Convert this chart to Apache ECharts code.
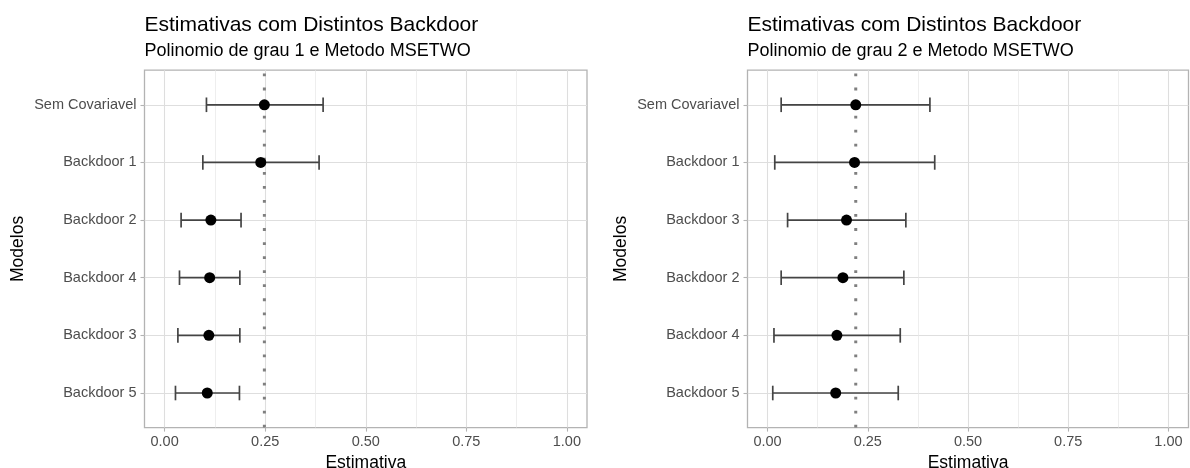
<!DOCTYPE html>
<html><head><meta charset="utf-8">
<script src="https://cdn.jsdelivr.net/npm/echarts@6/dist/echarts.min.js"></script>
<style>html,body{margin:0;padding:0;background:#fff}#c{width:1190px;height:468px}</style>
</head><body><div id="c"></div>
<script>
// ---- data ----
const titleText = 'Estimativas com Distintos Backdoor';
const subtitle1 = 'Polinomio de grau 1 e Metodo MSETWO';
const subtitle2 = 'Polinomio de grau 2 e Metodo MSETWO';
const xName = 'Estimativa';
const yName = 'Modelos';

const categories1 = ['Sem Covariavel', 'Backdoor 1', 'Backdoor 2', 'Backdoor 4', 'Backdoor 3', 'Backdoor 5'];
const estimate1 = [0.248, 0.239, 0.115, 0.112, 0.110, 0.106];
const lower1 = [0.104, 0.095, 0.041, 0.037, 0.033, 0.027];
const upper1 = [0.394, 0.384, 0.190, 0.187, 0.187, 0.186];
const vline1 = 0.248;

const categories2 = ['Sem Covariavel', 'Backdoor 1', 'Backdoor 3', 'Backdoor 2', 'Backdoor 4', 'Backdoor 5'];
const estimate2 = [0.220, 0.217, 0.197, 0.188, 0.173, 0.170];
const lower2 = [0.034, 0.018, 0.050, 0.034, 0.016, 0.013];
const upper2 = [0.405, 0.417, 0.345, 0.340, 0.331, 0.326];
const vline2 = 0.220;

const xTicks = [0, 0.25, 0.5, 0.75, 1];
const xTickLabels = ['0.00', '0.25', '0.50', '0.75', '1.00'];
const xMinorTicks = [0.125, 0.375, 0.625, 0.875];

// ---- chart ----
const FONT = 'Liberation Sans';
const chart = echarts.init(document.getElementById('c'));

const panels = [
  {cats: categories1, est: estimate1, lo: lower1, hi: upper1, v: vline1, sub: subtitle1, left: 144.5, right: 603},
  {cats: categories2, est: estimate2, lo: lower2, hi: upper2, v: vline2, sub: subtitle2, left: 747.5, right: 1.5}
];

const grid = [], xAxis = [], yAxis = [], series = [], title = [];

panels.forEach((p, i) => {
  const idx = p.cats.map((_, k) => k);
  grid.push({left: p.left, right: p.right, top: 70.2, bottom: 40.4, show: true,
    borderColor: '#b3b3b3', borderWidth: 1.3,
    containLabel: false, outerBoundsMode: 'none'});
  title.push({text: titleText, left: p.left, top: 14.5, padding: 0,
    textStyle: {fontFamily: FONT, fontSize: 21, fontWeight: 'normal', color: '#000'}});
  title.push({text: p.sub, left: p.left, top: 42, padding: 0,
    textStyle: {fontFamily: FONT, fontSize: 18, fontWeight: 'normal', color: '#000'}});

  // main x axis (labels, ticks, title)
  xAxis.push({type: 'value', gridIndex: i, min: -0.05, max: 1.05, position: 'bottom',
    axisLine: {show: false, onZero: false},
    axisTick: {show: true, customValues: xTicks.slice(), length: 4, lineStyle: {color: '#b3b3b3', width: 1.1}},
    axisLabel: {customValues: xTicks.slice(), margin: 7, color: '#4d4d4d', fontFamily: FONT, fontSize: 14.5,
      formatter: v => xTickLabels[xTicks.findIndex(t => Math.abs(t - v) < 1e-9)]},
    splitLine: {show: false},
    name: xName, nameLocation: 'middle', nameGap: 24,
    nameTextStyle: {fontFamily: FONT, fontSize: 17.5, color: '#000'}
  });
  // minor x grid lines
  xAxis.push({type: 'value', gridIndex: i, min: -0.05, max: 1.05, position: 'top',
    axisLine: {show: false, onZero: false},
    axisTick: {show: false, customValues: xMinorTicks.slice()},
    axisLabel: {show: false, customValues: xMinorTicks.slice()},
    splitLine: {show: true, lineStyle: {color: '#e6e6e6', width: 0.7}}
  });
  yAxis.push({type: 'value', gridIndex: i, min: -0.6, max: 5.6, inverse: true,
    axisLine: {show: false, onZero: false},
    axisTick: {show: true, customValues: idx, length: 4, lineStyle: {color: '#b3b3b3', width: 1.1}},
    axisLabel: {customValues: idx, margin: 8, color: '#4d4d4d', fontFamily: FONT, fontSize: 14.5,
      formatter: v => p.cats[Math.round(v)]},
    splitLine: {show: true, lineStyle: {color: '#dedede', width: 1.1}},
    name: yName, nameLocation: 'middle', nameGap: 117, nameRotate: 90,
    nameTextStyle: {fontFamily: FONT, fontSize: 17.5, color: '#000'}
  });

  const xi = i * 2;
  // major vertical grid lines at the x tick values
  series.push({type: 'line', xAxisIndex: xi, yAxisIndex: i, silent: true, symbol: 'none', z: 1,
    data: [],
    markLine: {silent: true, z: 1, symbol: ['none', 'none'], label: {show: false}, animation: false,
      lineStyle: {color: '#dedede', width: 1.1, type: 'solid'},
      emphasis: {disabled: true},
      data: xTicks.map(v => ({xAxis: v}))}});
  series.push({type: 'line', xAxisIndex: xi, yAxisIndex: i, silent: true, symbol: 'none', z: 2,
    data: [[p.v, 5.6], [p.v, -0.6]],
    lineStyle: {color: '#7f7f7f', width: 3, type: [2.8, 11.25], cap: 'butt'}});
  series.push({type: 'custom', xAxisIndex: xi, yAxisIndex: i, silent: true, z: 3,
    data: idx.map(k => [p.lo[k], p.hi[k], k]),
    encode: {x: [0, 1], y: 2},
    renderItem: (params, api) => {
      const a = api.coord([api.value(0), api.value(2)]);
      const b = api.coord([api.value(1), api.value(2)]);
      const h = 7.3;
      const style = {stroke: '#444', lineWidth: 1.7, fill: null};
      return {type: 'group', children: [
        {type: 'line', shape: {x1: a[0], y1: a[1], x2: b[0], y2: b[1]}, style},
        {type: 'line', shape: {x1: a[0], y1: a[1] - h, x2: a[0], y2: a[1] + h}, style},
        {type: 'line', shape: {x1: b[0], y1: b[1] - h, x2: b[0], y2: b[1] + h}, style}
      ]};
    }});
  series.push({type: 'scatter', xAxisIndex: xi, yAxisIndex: i, silent: true, z: 4,
    data: idx.map(k => [p.est[k], k]), symbol: 'circle', symbolSize: 11,
    itemStyle: {color: '#000', opacity: 1}});
});

chart.setOption({animation: false, backgroundColor: '#fff', title, grid, xAxis, yAxis, series});
</script></body></html>
